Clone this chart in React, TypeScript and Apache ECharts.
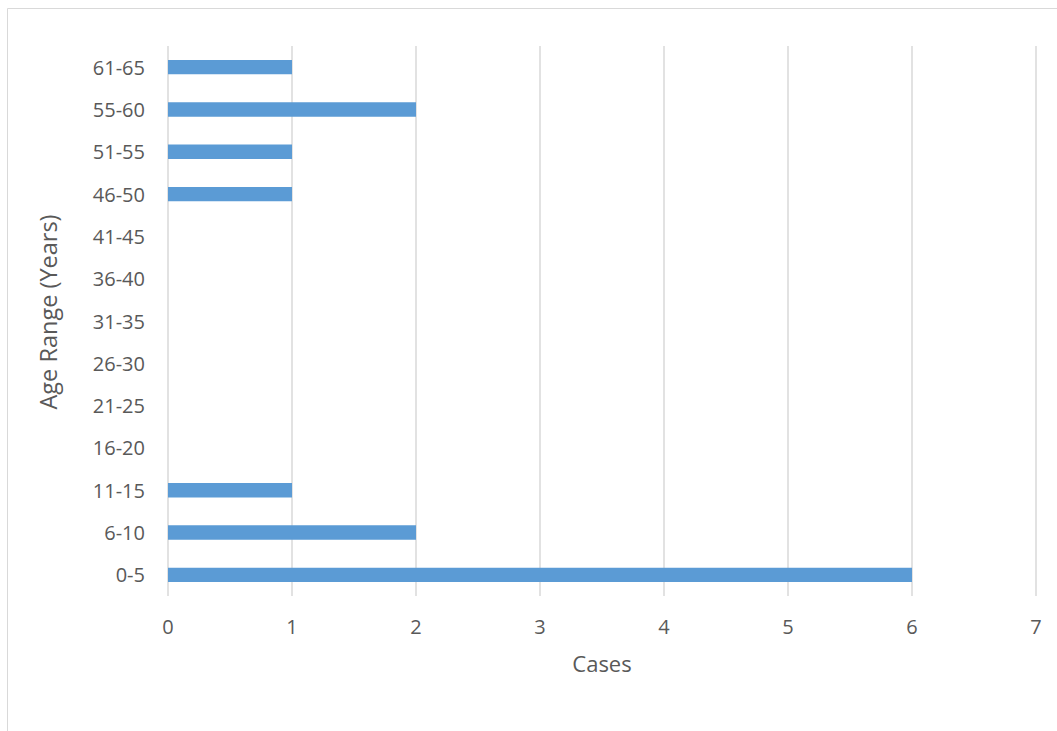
import React, { useEffect, useRef } from "react";
import * as echarts from "echarts";

const categories = ["0-5", "6-10", "11-15", "16-20", "21-25", "26-30", "31-35", "36-40", "41-45", "46-50", "51-55", "55-60", "61-65"];
const cases = [6, 2, 1, 0, 0, 0, 0, 0, 0, 1, 1, 2, 1];
const xTicks = [0, 1, 2, 3, 4, 5, 6, 7];
const yTitle = "Age Range (Years)";

export default function App() {
  const ref = useRef<HTMLDivElement>(null);
  useEffect(() => {
    const chart = echarts.init(ref.current!, undefined, { renderer: "svg" });
    const font = "'Open Sans', 'Liberation Sans', sans-serif";
    chart.setOption({
      animation: false,
      backgroundColor: "#ffffff",
      graphic: [
        { type: "line", shape: { x1: 7.5, y1: 8.5, x2: 1057, y2: 8.5 }, style: { stroke: "#d9d9d9", lineWidth: 1 } },
        { type: "line", shape: { x1: 7.5, y1: 8.5, x2: 7.5, y2: 731 }, style: { stroke: "#d9d9d9", lineWidth: 1 } },
        {
          type: "text",
          x: 48,
          y: 312,
          rotation: Math.PI / 2,
          style: { text: yTitle, fill: "#595959", fontSize: 23.5, fontFamily: font, align: "center", verticalAlign: "middle" },
        },
      ],
      grid: { left: 168, right: 21, top: 46, bottom: 135, containLabel: false },
      xAxis: {
        type: "value",
        min: xTicks[0],
        max: xTicks[xTicks.length - 1],
        interval: 1,
        name: "Cases",
        nameLocation: "middle",
        nameGap: 56,
        nameTextStyle: { color: "#595959", fontSize: 22, fontFamily: font },
        axisLine: { show: false },
        axisTick: { show: false },
        axisLabel: { color: "#595959", fontSize: 20, fontFamily: font, margin: 20 },
        splitLine: { show: true, lineStyle: { color: "#d9d9d9", width: 1.5 } },
      },
      yAxis: {
        type: "category",
        data: categories,
        axisLine: { show: false },
        axisTick: { show: false },
        axisLabel: { color: "#595959", fontSize: 20, fontFamily: font, margin: 23 },
        splitLine: { show: false },
      },
      series: [
        {
          type: "bar",
          data: cases,
          barWidth: "34%",
          itemStyle: { color: "#5b9bd5" },
        },
      ],
    });
    return () => chart.dispose();
  }, []);
  return <div ref={ref} style={{ position: "absolute", left: 0, top: 0, width: 1057, height: 731 }} />;
}
